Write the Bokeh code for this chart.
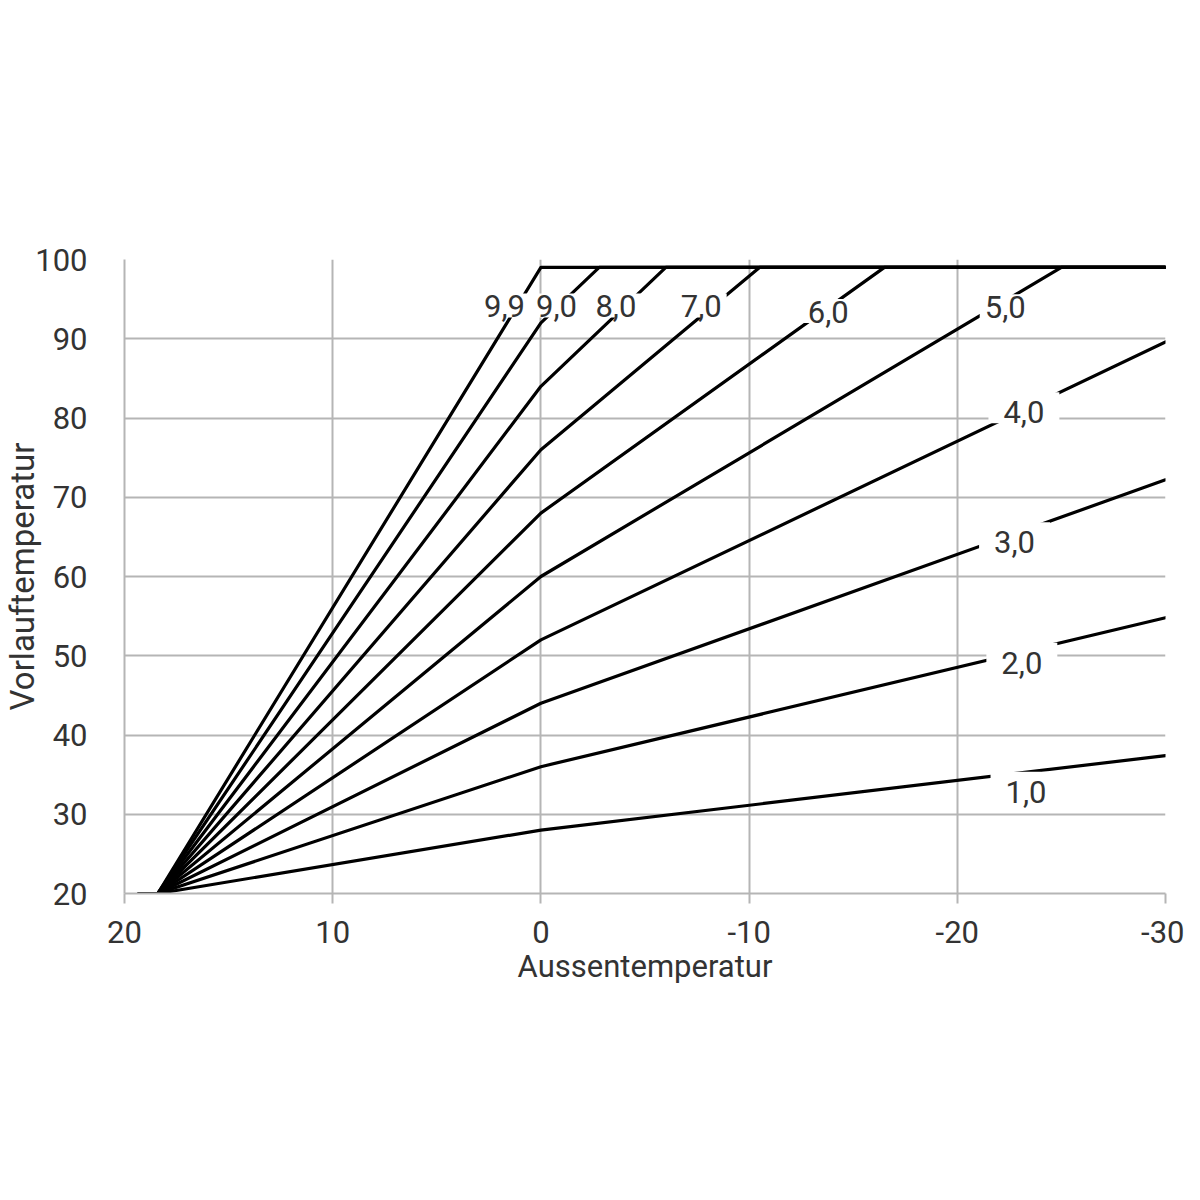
from bokeh.plotting import figure
from bokeh.models import Range1d, ColumnDataSource
from bokeh.core.properties import value
from bokeh.embed import file_html
from bokeh.resources import INLINE

# ---------------- data ----------------
curve_names = ["1,0", "2,0", "3,0", "4,0", "5,0", "6,0", "7,0", "8,0", "9,0", "9,9"]
curve_x = [
    [19.3, 18.4, 0, -30],
    [19.3, 18.4, 0, -30],
    [19.3, 18.4, 0, -30],
    [19.3, 18.4, 0, -30],
    [19.3, 18.4, 0, -25.0, -30],
    [19.3, 18.4, 0, -16.5, -30],
    [19.3, 18.4, 0, -10.5, -30],
    [19.3, 18.4, 0, -6.0, -30],
    [19.3, 18.4, 0, -2.8, -30],
    [19.3, 18.4, 0, -30],
]
curve_y = [
    [20, 20, 28, 37.4],
    [20, 20, 36, 54.8],
    [20, 20, 44, 72.2],
    [20, 20, 52, 89.6],
    [20, 20, 60, 99, 99],
    [20, 20, 68, 99, 99],
    [20, 20, 76, 99, 99],
    [20, 20, 84, 99, 99],
    [20, 20, 92, 99, 99],
    [20, 20, 99, 99],
]
top_labels = ["9,9", "9,0", "8,0", "7,0", "6,0", "5,0"]
top_label_x = [1.75, -0.75, -3.6, -7.7, -13.8, -22.3]
top_label_y = [94.2, 94.2, 94.2, 94.2, 93.5, 94.1]
side_labels = ["4,0", "3,0", "2,0", "1,0"]
side_label_x = [-23.2, -22.75, -23.1, -23.3]
side_label_y = [81.3, 64.9, 49.7, 33.4]
x_ticks = [20, 10, 0, -10, -20, -30]
x_tick_text = ["20", "10", "0", "-10", "-20", "-30"]
y_ticks = [20, 30, 40, 50, 60, 70, 80, 90, 100]
x_title = "Aussentemperatur"
y_title = "Vorlauftemperatur"

# ---------------- style ----------------
FONT = "Roboto"
TXT = "#333333"
GRID = "#b5b5b5"

p = figure(width=1184, height=1184, output_backend="svg", toolbar_location=None,
           x_range=Range1d(20, -30), y_range=Range1d(20, 100),
           min_border_left=124, min_border_right=19, min_border_top=259,
           min_border_bottom=291)
p.outline_line_color = None
p.background_fill_color = "white"
p.border_fill_color = "white"

p.xaxis.ticker = x_ticks
p.xaxis.major_label_overrides = {float(t): s for t, s in zip(x_ticks, x_tick_text)}
p.yaxis.ticker = y_ticks
for ax in (p.xaxis, p.yaxis):
    ax.axis_line_color = GRID
    ax.axis_line_width = 2
    ax.major_tick_line_color = GRID
    ax.major_tick_line_width = 2
    ax.minor_tick_line_color = None
    ax.major_label_text_font = FONT
    ax.major_label_text_font_size = "31px"
    ax.major_label_text_color = TXT
    ax.axis_label_text_font = FONT
    ax.axis_label_text_font_style = "normal"
    ax.axis_label_text_color = TXT
p.xaxis.major_tick_in = 0
p.xaxis.major_tick_out = 10
p.xaxis.major_label_standoff = 17
p.yaxis.major_tick_in = 0
p.yaxis.major_tick_out = 0
p.yaxis.major_label_standoff = 37

p.xaxis.axis_label = x_title
p.xaxis.axis_label_text_font_size = "31px"
p.xaxis.axis_label_standoff = 2
p.yaxis.axis_label = y_title
p.yaxis.axis_label_text_font_size = "33px"
p.yaxis.axis_label_standoff = -10

p.grid.grid_line_color = GRID
p.grid.grid_line_width = 2

src = ColumnDataSource(dict(xs=curve_x, ys=curve_y, name=curve_names))
p.multi_line(xs="xs", ys="ys", source=src, line_color="black", line_width=3.2,
             line_join="round", line_cap="round")

top_src = ColumnDataSource(dict(x=top_label_x, y=top_label_y, t=top_labels))
p.text(x="x", y="y", text="t", source=top_src, text_font=value(FONT),
       text_font_size="31px", text_color=TXT, text_align="center",
       text_baseline="alphabetic", background_fill_color="white",
       padding=dict(left=5, right=5, top=2, bottom=0))

side_src = ColumnDataSource(dict(x=side_label_x, y=side_label_y, t=side_labels))
p.text(x="x", y="y", text="t", source=side_src, text_font=value(FONT),
       text_font_size="31px", text_color=TXT, text_align="center",
       text_baseline="alphabetic", background_fill_color="white",
       padding=dict(left=15, right=15, top=9, bottom=0))

open("out.html", "w").write(file_html(p, INLINE))
